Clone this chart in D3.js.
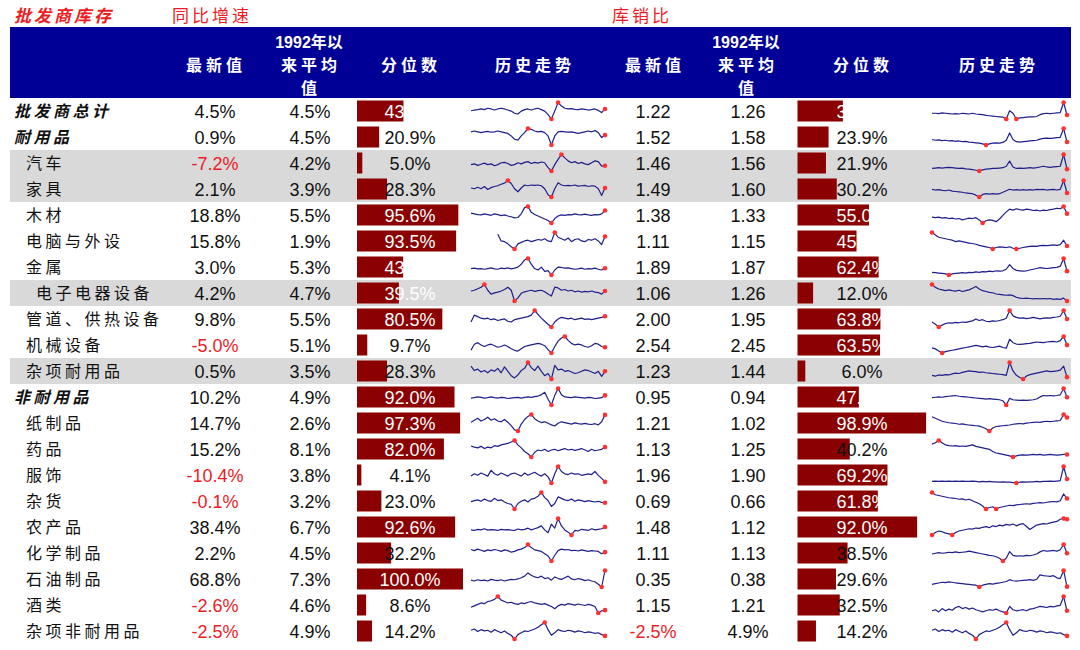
<!DOCTYPE html>
<html>
<head>
<meta charset="utf-8">
<script src="https://cdn.jsdelivr.net/npm/d3@7"></script>
<style>
  html, body { margin: 0; padding: 0; background: #fff; }
  svg { display: block; }
</style>
</head>
<body>
<div id="vis"></div>
<script>
// ---- data ----
const categories = ["批发商总计", "耐用品", "汽车", "家具", "木材", "电脑与外设", "金属", "电子电器设备",
  "管道、供热设备", "机械设备", "杂项耐用品", "非耐用品", "纸制品", "药品", "服饰", "杂货", "农产品",
  "化学制品", "石油制品", "酒类", "杂项非耐用品"];

// 同比增速
const growthLatest = [4.5, 0.9, -7.2, 2.1, 18.8, 15.8, 3.0, 4.2, 9.8, -5.0, 0.5, 10.2, 14.7, 15.2, -10.4, -0.1, 38.4, 2.2, 68.8, -2.6, -2.5];
const growthAvg = [4.5, 4.5, 4.2, 3.9, 5.5, 1.9, 5.3, 4.7, 5.5, 5.1, 3.5, 4.9, 2.6, 8.1, 3.8, 3.2, 6.7, 4.5, 7.3, 4.6, 4.9];
const growthPct = [43.8, 20.9, 5.0, 28.3, 95.6, 93.5, 43.5, 39.5, 80.5, 9.7, 28.3, 92.0, 97.3, 82.0, 4.1, 23.0, 92.6, 32.2, 100.0, 8.6, 14.2];

// 库销比 (last row in the source repeats the growth figures)
const ratioLatest = ["1.22", "1.52", "1.46", "1.49", "1.38", "1.11", "1.89", "1.06", "2.00", "2.54", "1.23", "0.95", "1.21", "1.13", "1.96", "0.69", "1.48", "1.11", "0.35", "1.15", "-2.5%"];
const ratioAvg = ["1.26", "1.58", "1.56", "1.60", "1.33", "1.15", "1.87", "1.26", "1.95", "2.45", "1.44", "0.94", "1.02", "1.25", "1.90", "0.66", "1.12", "1.13", "0.38", "1.21", "4.9%"];
const ratioPct = [34.9, 23.9, 21.9, 30.2, 55.0, 45.4, 62.4, 12.0, 63.8, 63.5, 6.0, 47.2, 98.9, 40.2, 69.2, 61.8, 92.0, 38.5, 29.6, 32.5, 14.2];

const growthTrend = [
  [25,27,28,30,28,32,30,27,30,32,30,27,24,18,16,24,28,30,27,30,32,28,24,14,2,24,48,38,32,30,31,29,28,30,29,27,28,30,26,20,30],
  [40,42,40,38,40,41,39,40,42,40,38,36,30,22,20,30,38,48,46,42,40,41,38,30,8,30,40,41,40,39,40,38,36,38,40,42,40,43,38,26,32],
  [30,32,28,31,34,30,32,27,30,35,36,33,28,30,35,32,36,38,33,36,34,37,35,22,13,30,44,57,48,40,35,38,33,36,32,30,35,40,38,26,27],
  [32,30,34,30,36,28,33,36,38,42,45,52,44,30,22,32,40,38,40,39,40,38,30,14,8,30,46,40,38,39,38,40,37,38,39,36,38,37,30,12,32],
  [40,38,36,35,38,36,34,38,36,33,35,32,30,27,28,38,55,58,42,36,32,28,24,20,13,25,32,35,34,36,35,38,36,35,37,35,34,36,35,38,47],
  [null,null,null,null,null,null,null,null,48,30,28,22,14,8,22,26,30,32,28,31,34,32,36,30,28,53,40,36,32,38,28,34,36,30,28,34,32,36,30,20,42],
  [32,33,31,32,30,32,34,31,30,33,32,34,31,33,36,44,56,60,44,32,28,36,24,26,14,28,36,35,33,34,32,30,31,33,30,32,31,33,30,28,33],
  [38,40,44,48,55,40,30,33,35,38,42,48,40,12,20,32,36,38,40,37,39,40,36,30,25,48,46,40,42,38,40,36,38,35,37,36,38,35,34,30,38],
  [30,48,44,40,38,40,36,38,34,36,38,32,30,36,38,40,42,44,48,60,50,40,32,24,17,30,38,42,40,38,40,36,38,40,37,38,36,38,40,42,45],
  [20,36,40,34,30,34,36,32,28,30,34,30,24,20,18,24,30,32,34,36,38,36,32,22,13,30,44,52,56,46,38,34,36,34,30,28,32,38,36,30,28],
  [50,38,42,34,38,32,40,36,44,32,48,36,24,18,26,38,44,60,46,38,50,36,24,30,15,52,40,42,36,38,34,30,32,36,40,38,34,30,36,22,36],
  [33,34,36,35,33,34,36,34,33,35,34,32,33,34,35,33,35,36,35,37,38,42,48,30,15,40,58,42,36,35,34,36,35,34,33,35,34,32,33,34,40],
  [35,40,45,38,42,48,40,44,38,36,42,35,26,15,12,30,42,50,55,44,38,34,36,32,28,25,32,36,34,32,30,33,31,30,32,30,29,31,28,36,54],
  [45,42,40,44,38,42,40,46,44,48,50,52,56,60,48,40,30,24,15,28,34,32,36,30,34,36,32,35,38,34,36,33,35,38,34,30,36,32,34,36,42],
  [30,36,32,38,34,30,45,36,32,38,34,30,36,38,34,30,38,32,36,40,34,30,36,28,12,36,55,42,36,34,38,35,36,32,34,36,34,42,32,24,15],
  [35,38,40,36,42,38,36,44,38,40,34,30,28,15,30,36,40,34,42,44,50,60,46,38,22,30,48,44,40,38,42,36,40,38,35,38,36,34,36,33,32],
  [30,28,32,30,34,29,31,30,28,32,30,31,29,28,33,30,32,36,30,34,38,44,30,20,50,36,70,44,30,22,12,28,26,32,30,28,34,30,32,34,40],
  [45,42,46,43,40,44,42,45,43,40,44,42,38,40,44,46,50,58,50,44,42,40,34,28,15,30,42,46,44,45,42,43,41,44,42,40,42,41,40,34,38],
  [32,30,33,31,32,30,34,32,31,33,30,32,34,33,35,38,42,50,44,40,38,42,36,38,32,40,36,34,38,42,35,33,36,34,31,33,30,28,22,15,56],
  [28,32,36,40,38,44,46,50,58,48,44,40,42,38,36,40,38,42,44,40,38,36,38,34,30,24,32,36,34,38,36,34,37,35,33,36,34,30,12,18,20],
  [38,42,34,40,36,38,32,40,35,30,36,28,22,10,24,30,36,34,38,42,48,56,63,40,22,30,40,36,34,38,36,32,36,34,30,33,31,28,30,24,20]
];

const ratioTrend = [
  [28,28,27,29,28,27,26,27,26,28,27,26,28,26,25,24,22,21,20,19,18,17,12,35,28,12,15,16,17,18,18,19,24,27,28,27,28,29,30,58,23],
  [32,30,31,29,30,28,29,27,28,26,27,25,24,23,22,20,17,20,22,23,22,24,30,50,32,26,25,26,27,28,29,30,33,35,36,35,36,37,38,62,25],
  [20,21,22,21,22,23,22,21,20,21,19,18,17,15,13,16,18,19,20,20,21,22,26,40,24,20,21,20,21,22,21,22,24,26,24,23,24,25,26,58,18],
  [38,36,37,35,34,36,33,32,31,30,28,27,26,22,17,24,26,25,26,25,26,30,34,38,36,37,36,37,36,37,36,38,37,38,36,37,38,36,38,62,28],
  [28,27,28,26,27,25,26,24,25,22,24,26,25,27,22,15,20,22,21,18,24,32,40,46,44,47,45,44,46,45,43,44,42,44,43,45,46,48,47,52,36],
  [65,58,52,50,48,46,44,40,42,40,38,36,35,33,30,28,26,24,20,24,26,25,24,26,22,20,22,24,26,27,28,27,29,30,29,30,31,30,32,44,28],
  [22,21,20,19,18,15,18,19,20,21,20,22,21,23,22,24,23,25,24,26,25,26,30,42,32,27,26,25,26,28,30,32,34,33,32,33,34,35,38,58,25],
  [53,46,42,40,38,40,38,37,39,36,38,40,44,48,42,38,36,34,33,30,29,28,27,28,26,22,20,19,20,19,18,19,18,19,18,19,17,18,17,20,13],
  [30,24,17,22,26,28,27,29,28,30,29,31,33,38,34,36,32,31,33,32,34,36,40,60,46,42,40,41,39,40,42,40,38,40,41,40,42,43,45,60,38],
  [25,22,16,10,14,16,18,20,22,24,26,28,30,32,30,28,30,27,26,28,30,26,24,50,40,36,35,36,37,38,40,42,41,40,42,43,44,42,46,58,33],
  [30,28,31,30,32,31,34,36,35,38,40,42,41,40,38,39,37,36,35,34,33,32,30,65,42,30,24,20,28,32,34,36,38,40,42,40,41,42,44,55,25],
  [34,35,36,35,37,38,39,40,38,37,36,35,34,33,32,31,30,31,30,29,28,25,13,32,28,27,26,27,26,27,28,30,36,40,39,40,39,40,42,60,35],
  [50,46,42,38,36,34,33,32,30,31,29,28,27,26,25,22,18,12,20,24,25,26,27,28,30,31,32,31,33,34,35,36,35,37,38,37,38,39,40,56,48],
  [50,54,60,54,48,46,45,46,44,45,44,46,48,44,42,40,38,36,30,26,24,22,20,18,15,18,20,21,20,21,22,21,22,20,21,22,21,20,21,22,22],
  [14,15,14,15,14,15,14,15,14,15,14,14,15,14,13,14,13,14,13,13,12,13,12,12,11,10,12,13,12,13,13,14,13,14,14,15,14,15,16,52,20],
  [62,56,54,52,50,48,47,46,44,45,42,44,40,36,32,26,18,22,24,18,22,24,26,28,27,29,30,31,32,31,33,34,35,34,36,37,38,37,40,58,46],
  [15,22,26,24,20,18,15,22,26,28,30,32,31,34,33,36,38,35,40,38,42,40,44,42,45,40,44,46,38,30,36,42,44,46,45,48,50,52,58,60,58],
  [38,40,42,40,41,43,42,44,42,43,44,46,44,42,40,38,36,34,33,30,26,18,26,45,34,32,33,32,34,33,35,38,44,48,46,47,48,46,50,65,40],
  [22,24,26,28,27,29,28,26,25,24,23,22,21,20,15,20,22,24,23,25,26,28,30,35,32,31,32,33,34,35,33,36,48,46,45,44,46,40,38,60,16],
  [30,32,28,34,30,33,31,36,38,34,36,33,35,32,30,28,30,32,31,33,30,28,26,38,32,30,31,32,30,33,34,36,38,37,36,38,37,39,40,56,30],
  [38,42,34,40,36,38,32,40,35,30,36,28,22,10,24,30,36,34,38,42,48,56,63,40,22,30,40,36,34,38,36,32,36,34,30,33,31,28,30,24,20]
];

// ---- styling / layout ----
const W = 1080, H = 650;
const headRows = [0, 1, 11];          // bold italic rows
const shadedRows = [2, 3, 7, 10];     // grey bands
const lightLeft = growthPct.map(v => v >= 35);
const lightRight = [0, 4, 5, 6, 8, 9, 11, 12, 14, 15, 16];
const blue = "#000096", barRed = "#8b0000", textRed = "#ee1c25", grey = "#d9d9d9";
const cjk = "'Noto Sans CJK SC', sans-serif";
const num = "'Liberation Sans', Arial, 'Noto Sans CJK SC', sans-serif";

const svg = d3.select("#vis").append("svg")
  .attr("width", W).attr("height", H)
  .style("background", "#fff");

const y = d3.scaleBand().domain(categories).range([98, 644]).padding(0);
const xLeftBar = d3.scaleLinear().domain([0, 100]).range([357, 463]);
const xRightBar = d3.scaleLinear().domain([0, 100]).range([797.5, 927.5]);

// titles
const titles = [["批发商库存", 14, true], ["同比增速", 172, false], ["库销比", 612, false]];
svg.selectAll("text.title").data(titles).enter().append("text")
  .attr("class", "title")
  .attr("x", d => d[0] === "批发商库存" ? d[1] : d[1])
  .attr("y", 22)
  .attr("fill", textRed)
  .style("font-family", cjk)
  .style("font-size", "17px")
  .style("letter-spacing", "3px")
  .style("font-style", d => d[2] ? "italic" : "normal")
  .style("font-weight", d => d[2] ? "bold" : "normal")
  .text(d => d[0]);

// header band
svg.append("rect").attr("x", 10).attr("y", 27).attr("width", 1061).attr("height", 71).attr("fill", blue);

const headers = [
  { x: 214, lines: ["最新值"] },
  { x: 309, lines: ["1992年以", "来平均", "值"] },
  { x: 409, lines: ["分位数"] },
  { x: 533, lines: ["历史走势"] },
  { x: 653, lines: ["最新值"] },
  { x: 746, lines: ["1992年以", "来平均", "值"] },
  { x: 861, lines: ["分位数"] },
  { x: 997, lines: ["历史走势"] }
];
headers.forEach(h => {
  const ys = h.lines.length === 1 ? [71] : [48, 71, 94];
  h.lines.forEach((t, i) => {
    svg.append("text")
      .attr("x", h.x + (/^\d/.test(t) ? 0 : 2)).attr("y", ys[i])
      .attr("text-anchor", "middle")
      .attr("fill", "#fff")
      .style("font-family", num)
      .style("font-weight", "bold")
      .style("font-size", "16px")
      .style("letter-spacing", /^\d/.test(t) ? "0px" : "4px")
      .text(t);
  });
});

// grey bands
svg.selectAll("rect.band").data(shadedRows).enter().append("rect")
  .attr("class", "band")
  .attr("x", 10).attr("width", 1061)
  .attr("y", i => y(categories[i]))
  .attr("height", y.bandwidth())
  .attr("fill", grey);

const rows = categories.map((c, i) => ({ i, c, mid: y(c) + y.bandwidth() / 2, top: y(c) }));

// category labels
svg.selectAll("text.cat").data(rows).enter().append("text")
  .attr("class", "cat")
  .attr("x", d => headRows.includes(d.i) ? 14 : (d.c === "电子电器设备" ? 36 : 26))
  .attr("y", d => d.mid + 6)
  .attr("fill", "#111")
  .style("font-family", cjk)
  .style("font-size", "16px")
  .style("letter-spacing", "3.5px")
  .style("font-style", d => headRows.includes(d.i) ? "italic" : "normal")
  .style("font-weight", d => headRows.includes(d.i) ? "bold" : "normal")
  .text(d => d.c);

function numCol(values, x, fmt) {
  svg.append("g").selectAll("text").data(values).enter().append("text")
    .attr("x", x)
    .attr("y", (d, i) => rows[i].mid + 6.5)
    .attr("text-anchor", "middle")
    .attr("fill", d => String(fmt(d)).startsWith("-") ? textRed : "#111")
    .style("font-family", num)
    .style("font-size", "18px")
    .text(d => fmt(d));
}
const pct = v => v.toFixed(1) + "%";
numCol(growthLatest, 215, pct);
numCol(growthAvg, 310, pct);
numCol(ratioLatest, 653, d => d);
numCol(ratioAvg, 748, d => d);

// percentile bars
function barCol(values, xs, labelX, light) {
  const g = svg.append("g");
  g.selectAll("rect").data(values).enter().append("rect")
    .attr("x", xs(0))
    .attr("y", (d, i) => rows[i].top + 2.5)
    .attr("width", d => xs(d) - xs(0))
    .attr("height", 21)
    .attr("fill", barRed);
  g.selectAll("text").data(values).enter().append("text")
    .attr("x", labelX)
    .attr("y", (d, i) => rows[i].mid + 6.5)
    .attr("text-anchor", "middle")
    .attr("fill", (d, i) => light(i) ? "#fff" : "#111")
    .style("font-family", num)
    .style("font-size", "18px")
    .text(d => pct(d));
}
barCol(growthPct, xLeftBar, 410, i => lightLeft[i]);
barCol(ratioPct, xRightBar, 862, i => lightRight.includes(i));

// sparklines
function sparkCol(series, x0, x1) {
  const g = svg.append("g");
  series.forEach((vals, i) => {
    const top = rows[i].top;
    const xs = d3.scaleLinear().domain([0, vals.length - 1]).range([x0, x1]);
    const ext = d3.extent(vals);
    const ys = d3.scaleLinear().domain(ext).range([top + 21, top + 4.5]);
    const line = d3.line()
      .defined(d => d != null)
      .x((d, j) => xs(j))
      .y(d => ys(d));
    g.append("path")
      .attr("d", line(vals))
      .attr("fill", "none")
      .attr("stroke", "#1f1f8c")
      .attr("stroke-width", 1.2)
      .attr("stroke-linejoin", "round");
    const marks = vals.map((v, j) => ({ v, j }))
      .filter(p => p.v != null && (p.v === ext[0] || p.v === ext[1] || p.j === vals.length - 1));
    g.selectAll(null).data(marks).enter().append("circle")
      .attr("cx", p => xs(p.j))
      .attr("cy", p => ys(p.v))
      .attr("r", 2.3)
      .attr("fill", "#ff3030");
  });
}
sparkCol(growthTrend, 471, 605);
sparkCol(ratioTrend, 932, 1067);
</script>
</body>
</html>
